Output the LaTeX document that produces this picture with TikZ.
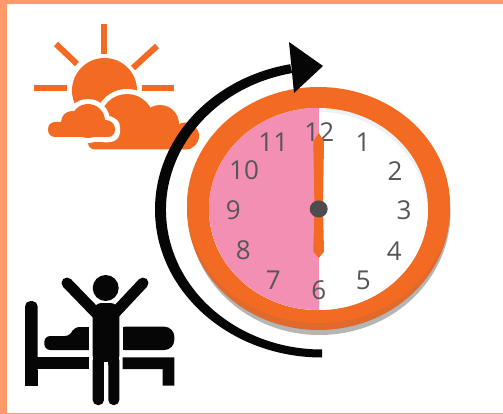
\documentclass[tikz,border=0pt]{standalone}
\usepackage{fontspec}
\setmainfont{Open Sans}
\definecolor{bord}{HTML}{FF9A6B}
\definecolor{org}{HTML}{F36A22}
\definecolor{orgd}{HTML}{DF6A2C}
\definecolor{pinkf}{HTML}{F48FB4}
\definecolor{num}{HTML}{55555A}
\definecolor{blk}{HTML}{060606}
\definecolor{shad}{HTML}{B4B6B6}
\definecolor{faceshad}{HTML}{EDF2F5}
\tikzset{
  num/.style={font=\fontsize{26}{26}\selectfont,text=num,inner sep=0pt},
  ray/.style={draw=org,line width=6pt},
  lim/.style={draw=blk,line width=11pt,line cap=round},
}
\begin{document}
\begin{tikzpicture}[x=1pt,y=-1pt]
\useasboundingbox (0,0) rectangle (503,414);
\fill[bord] (0,0) rectangle (503,414);
\fill[white] (7,4) rectangle (503,413);
% sun
\draw[ray] (104,24)--(104,54);
\draw[ray] (56,44)--(77,64);
\draw[ray] (157,46)--(133,68);
\draw[ray] (34,88)--(67,88);
\draw[ray] (142,88)--(174,88);
\fill[org] (104.5,90.5) circle (32.5);
% large cloud
\fill[white] (127,121) circle (32);
\fill[white,rounded corners=8pt] (83,123) rectangle (195,154);
\fill[org] (127,121) circle (27);
\fill[org] (160,124) circle (19);
\fill[org] (185.5,136) circle (13.5);
\fill[org,rounded corners=7pt] (88,128) rectangle (190,149.5);
% small cloud
\fill[white,rounded corners=10pt] (43,117) rectangle (120,142);
\fill[white] (88,121) circle (22);
\fill[white] (72,122) circle (16);
\fill[white] (106,129) circle (13.5);
\fill[org,rounded corners=7pt] (48,122) rectangle (115,137);
\fill[org] (88,121) circle (17);
\fill[org] (72,122) circle (11);
\fill[org] (106,128.5) circle (8.5);
% clock
\fill[shad] (319.5,212) ellipse[x radius=131,y radius=123];
\fill[orgd] (318.5,209) ellipse[x radius=131.5,y radius=121];
\fill[org] (318.5,205) ellipse[x radius=131.5,y radius=118];
\fill[faceshad] (318.5,209) ellipse[x radius=109.5,y radius=101];
\begin{scope}
\clip (318.5,209) ellipse[x radius=109.5,y radius=101];
\fill[white] (318.5,217) ellipse[x radius=109.5,y radius=105];
\fill[pinkf] (209,100) rectangle (318.5,320);
\end{scope}
\node[num] (n12) at (319.3,131.7) {12};
\node[num] (n1) at (363,142) {1};
\node[num] (n2) at (395,170.7) {2};
\node[num] (n3) at (404,210.7) {3};
\node[num] (n4) at (394.3,250.7) {4};
\node[num] (n5) at (363.3,280) {5};
\node[num] (n6) at (318.7,290) {6};
\node[num] (n7) at (273.3,280) {7};
\node[num] (n8) at (243.3,250.7) {8};
\node[num] (n9) at (233.3,210.7) {9};
\node[num] (n10) at (244,170.7) {10};
\node[num] (n11) at (273.3,142) {11};
\fill[org] (318.7,132.7) -- (324,141.7) -- (323,209) -- (324,251.7) -- (318.7,258) -- (313.3,251.7) -- (314.5,209) -- (313.3,141.7) -- cycle;
\fill[num!90!black] (318.7,209) ellipse[x radius=9,y radius=8.5];
% arrow
\fill[blk] (322,357.5) arc[start angle=90,end angle=259,x radius=167,y radius=148]
  -- ([shift={(322,210)}]259:156 and 139.5) arc[start angle=259,end angle=90,x radius=156,y radius=139.5] -- cycle;
\fill[blk] (289,42) -- (323,66) -- (294,93) -- cycle;
% person and bed
\fill[blk,rounded corners=5.5pt] (25,385.7) -- (25,301) -- (37.7,301) -- (37.7,385.7) -- cycle;
\fill[blk] (25,385.7) rectangle (37.7,370);
\fill[blk] (30,357.3) rectangle (89.3,369);
\fill[blk] (122.7,357.3) -- (174.3,357.3) -- (174.3,385.7) -- (162.7,385.7) -- (162.7,369) -- (122.7,369) -- cycle;
\fill[blk,rounded corners=6pt] (44.3,350) -- (44.3,336) -- (71,336) -- (73.3,327) -- (95,327) -- (95,350) -- cycle;
\fill[white] (89.3,320) rectangle (95,355);
\fill[blk,rounded corners=10pt] (115,326.7) -- (174.3,326.7) -- (174.3,350) -- (115,350) -- cycle;
\fill[blk] (122.7,326.7) rectangle (140,350);
\fill[white] (115,320) rectangle (122.7,355);
\fill[blk] (105.7,288) circle (13);
\draw[lim] (67,283) -- (98,315);
\draw[lim] (143,283) -- (113,315);
\fill[blk,rounded corners=9pt] (92.7,365) -- (92.7,303) -- (119.3,303) -- (119.3,365) -- cycle;
\fill[blk,rounded corners=5pt] (92.7,355) -- (92.7,405) -- (104,405) -- (104,355) -- cycle;
\fill[blk,rounded corners=5pt] (108.3,355) -- (108.3,405) -- (119.3,405) -- (119.3,355) -- cycle;
\fill[white] (104,361.5) rectangle (108.3,410);
\end{tikzpicture}
\end{document}
